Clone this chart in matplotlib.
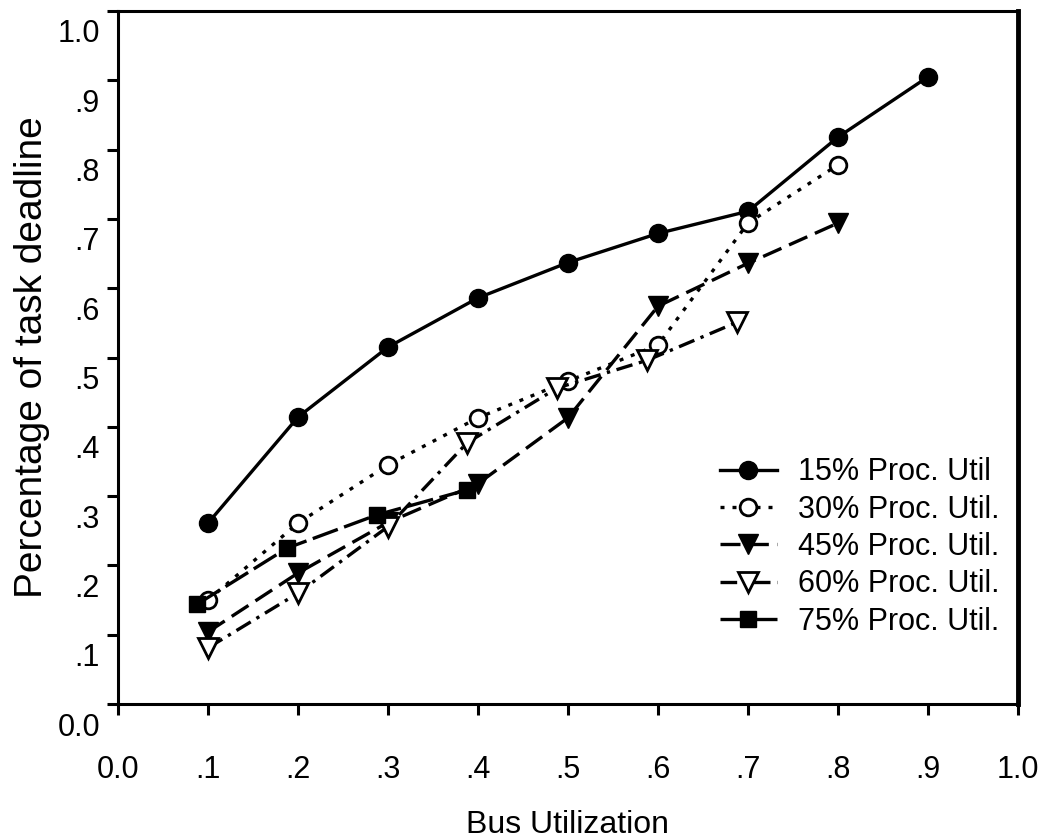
import matplotlib
matplotlib.use("Agg")
import matplotlib.pyplot as plt
from matplotlib.transforms import ScaledTranslation

plt.rcParams["font.family"] = ["Liberation Sans", "DejaVu Sans"]

# values
x_15 = [0.1, 0.2, 0.3, 0.4, 0.5, 0.6, 0.7, 0.8, 0.9]
y_15 = [0.261, 0.414, 0.515, 0.586, 0.637, 0.679, 0.711, 0.818, 0.905]

x_30 = [0.1, 0.2, 0.3, 0.4, 0.5, 0.6, 0.7, 0.8]
y_30 = [0.150, 0.261, 0.345, 0.413, 0.466, 0.518, 0.694, 0.778]

x_45 = [0.1, 0.2, 0.3, 0.4, 0.5, 0.6, 0.7, 0.8]
y_45 = [0.104, 0.189, 0.262, 0.318, 0.413, 0.574, 0.636, 0.694]

x_60 = [0.1, 0.2, 0.3, 0.388, 0.488, 0.588, 0.688]
y_60 = [0.081, 0.160, 0.256, 0.377, 0.456, 0.496, 0.551]

x_75 = [0.088, 0.188, 0.288, 0.388]
y_75 = [0.144, 0.225, 0.273, 0.309]

labels = ["15% Proc. Util", "30% Proc. Util.", "45% Proc. Util.",
          "60% Proc. Util.", "75% Proc. Util."]
ticks = [0.0, 0.1, 0.2, 0.3, 0.4, 0.5, 0.6, 0.7, 0.8, 0.9, 1.0]
tick_labels = ["0.0", ".1", ".2", ".3", ".4", ".5", ".6", ".7", ".8", ".9", "1.0"]

fig = plt.figure(figsize=(10.45, 8.39), dpi=100)
ax = fig.add_axes([118 / 1045, 1 - 704 / 839, 900 / 1045, 693 / 839])

lw = 2.4
ax.plot(x_15, y_15, color="black", lw=lw, marker="o", ms=13,
        mfc="black", mec="black", label=labels[0])
ax.plot(x_30, y_30, color="black", lw=lw, dashes=(1.2, 2.4), marker="o", ms=12,
        mfc="white", mec="black", mew=2, label=labels[1])
ax.plot(x_45, y_45, color="black", lw=lw, dashes=(6, 2.5), marker="v", ms=14,
        mfc="black", mec="black", label=labels[2])
ax.plot(x_60, y_60, color="black", lw=lw, dashes=(5, 2, 1, 2), marker="v", ms=14,
        mfc="white", mec="black", mew=2, label=labels[3])
ax.plot(x_75, y_75, color="black", lw=lw, dashes=(8, 2), marker="s", ms=12,
        mfc="black", mec="black", label=labels[4])

ax.set_xlim(0, 1)
ax.set_ylim(0, 1)
ax.set_xticks(ticks)
ax.set_xticklabels(tick_labels)
ax.set_yticks(ticks)
ax.set_yticklabels(tick_labels)
ax.tick_params(axis="both", direction="out", length=8, width=2.2,
               labelsize=22, color="black")
ax.tick_params(axis="x", pad=29)
ax.tick_params(axis="y", pad=5)
for lab in ax.get_yticklabels():
    lab.set_transform(lab.get_transform() + ScaledTranslation(0, -0.2, fig.dpi_scale_trans))

for side in ["left", "bottom", "top"]:
    ax.spines[side].set_linewidth(2.2)
ax.spines["right"].set_linewidth(3.5)

ax.set_xlabel("Bus Utilization", fontsize=23, labelpad=18)
ax.set_ylabel("Percentage of task deadline", fontsize=28, labelpad=5)

ax.legend(loc="upper left", bbox_to_anchor=(0.669, 0.356), frameon=False,
          fontsize=22, handlelength=1.85, handletextpad=0.7, labelspacing=0.24,
          borderpad=0, borderaxespad=0)

fig.savefig("out.png", dpi=100)
